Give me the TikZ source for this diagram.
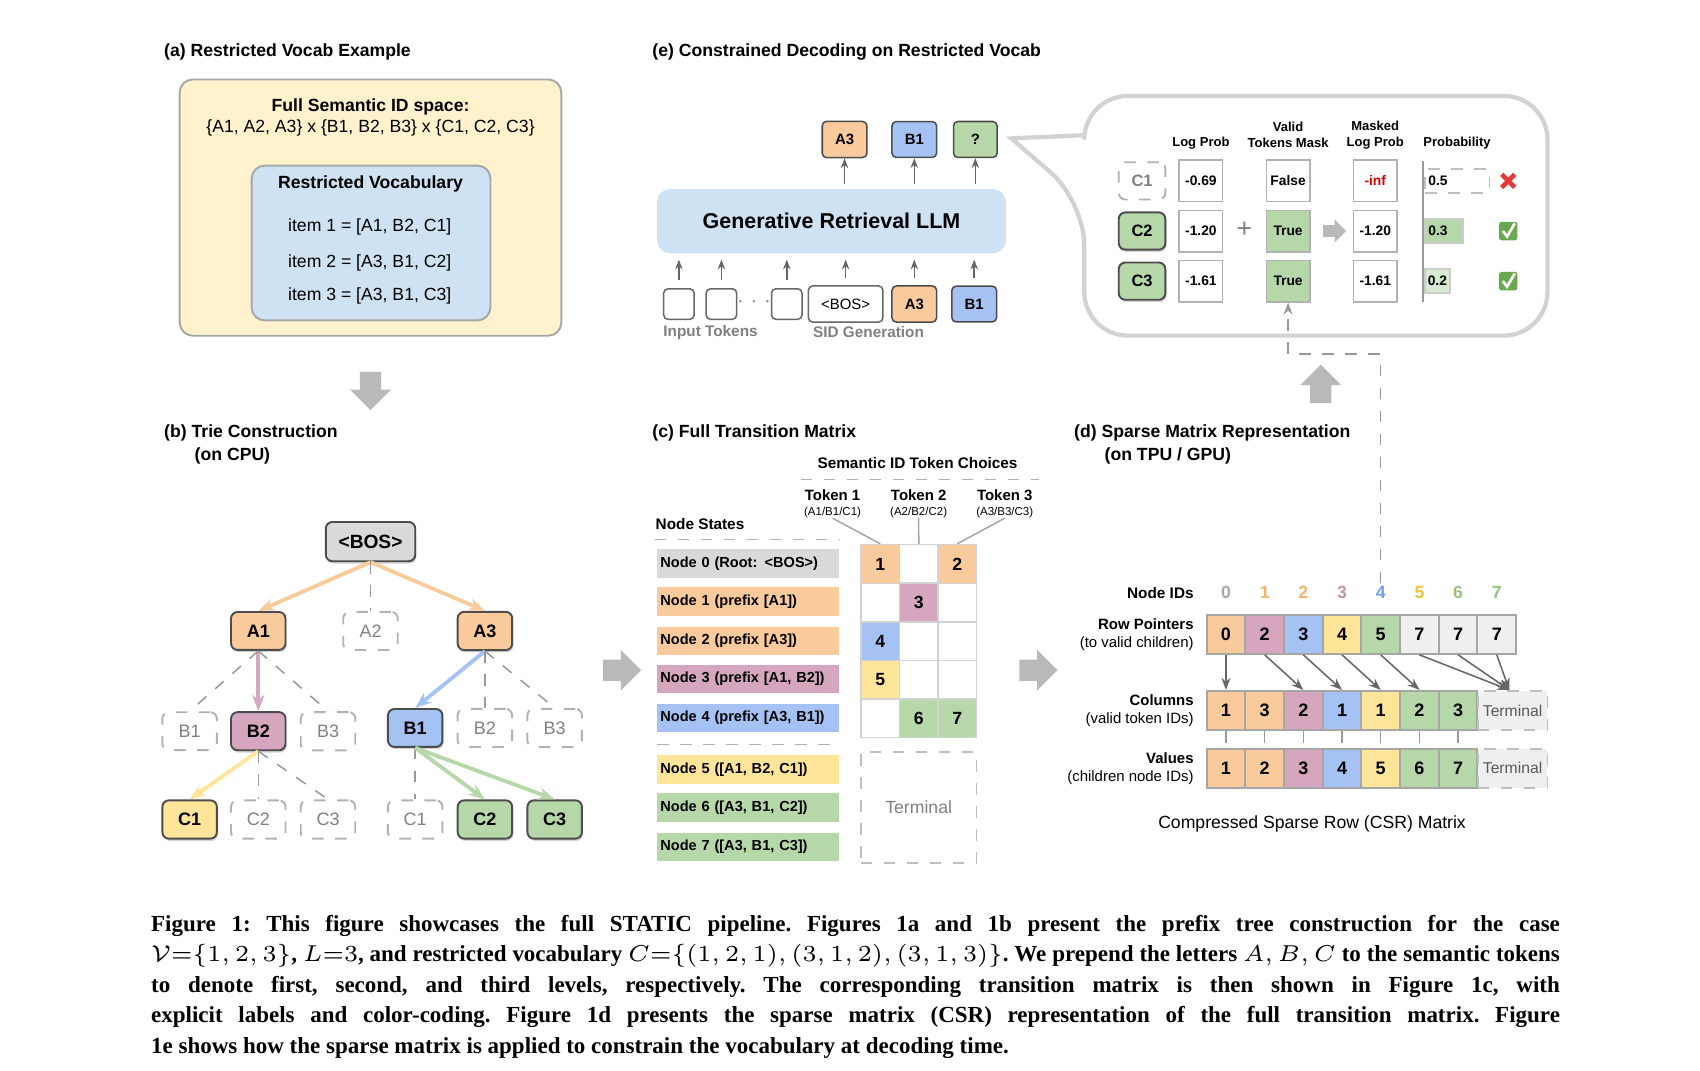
\documentclass[tikz,border=0pt]{standalone}
\usepackage{fontspec}
\setmainfont{Liberation Sans}
\newfontfamily\capfont{Liberation Serif}
\usetikzlibrary{arrows.meta, positioning, shapes.arrows, shadows}
\definecolor{orangeF}{HTML}{F9CB9C}
\definecolor{pinkF}{HTML}{D5A6BD}
\definecolor{blueF}{HTML}{A4C2F4}
\definecolor{yellowF}{HTML}{FFE599}
\definecolor{greenF}{HTML}{B6D7A8}
\definecolor{lgreenF}{HTML}{D9EAD3}
\definecolor{grayF}{HTML}{D9D9D9}
\definecolor{ltgrayF}{HTML}{EFEFEF}
\definecolor{creamF}{HTML}{FFF2CC}
\definecolor{skyF}{HTML}{CFE2F3}
\definecolor{orangeT}{HTML}{F6B26B}
\definecolor{pinkT}{HTML}{C98FAE}
\definecolor{blueT}{HTML}{6D9EEB}
\definecolor{yellowT}{HTML}{F1C232}
\definecolor{greenT}{HTML}{93C47D}
\definecolor{checkF}{HTML}{6AA84F}
\definecolor{crossT}{HTML}{E53935}
\newcommand{\fs}[1]{\linespread{1.2}\fontsize{#1}{#1}\selectfont}
\begin{document}
\begin{tikzpicture}[x=0.01cm, y=-0.01cm]

  % Define styles
  \tikzstyle{title} = [anchor=west, inner sep=0pt, font=\fs{4.6}\bfseries]
  \tikzstyle{trie} = [rectangle, rounded corners=0.6mm, draw=black!70, line width=0.5pt, minimum width=5mm, minimum height=3.4mm, font=\fs{4.7}\bfseries, drop shadow={shadow xshift=0.3pt, shadow yshift=-0.6pt, opacity=.35}]
  \tikzstyle{ghost} = [rectangle, rounded corners=0.6mm, draw=gray!60, dashed, line width=0.5pt, minimum width=5mm, minimum height=3.4mm, text=gray, font=\fs{4.7}]
  \tikzstyle{tok} = [rectangle, rounded corners=0.4mm, draw=black!70, line width=0.4pt, minimum width=4mm, minimum height=2.8mm, font=\fs{3.9}\bfseries]
  \tikzstyle{cell} = [rectangle, draw=gray!35, line width=0.4pt, minimum width=3.55mm, minimum height=3.55mm, inner sep=0pt, font=\fs{4.6}\bfseries]
  \tikzstyle{state} = [rectangle, minimum width=16.7mm, minimum height=2.6mm, text width=16mm, inner sep=0.35mm, align=left, font=\fs{3.8}\bfseries]
  \tikzstyle{csr} = [rectangle, draw=gray!70, line width=0.5pt, minimum width=3.55mm, minimum height=3.6mm, inner sep=0pt, font=\fs{4.7}\bfseries]
  \tikzstyle{rowlab} = [anchor=east, align=right, inner sep=0pt, font=\fs{3.9}]
  \tikzstyle{box} = [rectangle, draw=gray!60, line width=0.4pt, minimum width=4mm, minimum height=3.8mm, inner sep=0pt, font=\fs{3.6}\bfseries]
  \tikzstyle{head} = [align=center, inner sep=0pt, font=\fs{3.4}\bfseries]
  \tikzstyle{bigarrow} = [single arrow, fill=gray!55, inner sep=0.9mm, minimum width=3.6mm, minimum height=3.5mm, single arrow head extend=0.9mm]
  \tikzstyle{ptr} = [draw=gray!80!black, line width=0.4pt, -{Stealth[length=1.1mm]}]
  \tikzstyle{uparr} = [draw=gray!80!black, line width=0.4pt, -{Stealth[length=0.9mm]}]
  \tikzstyle{dashed_line} = [draw=gray!60, dashed, line width=0.4pt]

  \useasboundingbox (0,0) rectangle (1560,982);

  % (a) Restricted vocab
  \node[title] at (150,48) {(a) Restricted Vocab Example};
  \node[draw=gray!70, fill=creamF, rounded corners=1.2mm, line width=0.5pt, minimum width=35mm, minimum height=23.5mm] (full) at (340,190.5) {};
  \node[font=\fs{4.6}, align=center] (fulltxt) at (340,108) {\textbf{Full Semantic ID space:}\\{\{A1, A2, A3\} x \{B1, B2, B3\} x \{C1, C2, C3\}}};
  \node[draw=gray!70, fill=skyF, rounded corners=1.2mm, line width=0.5pt, minimum width=21.9mm, minimum height=14.2mm] (vocab) at (340.5,223) {};
  \node[font=\fs{4.6}\bfseries] (vocabtxt) at (340,169) {Restricted Vocabulary};
  \node[anchor=west, font=\fs{4.6}] (item1) at (252,208) {item 1 = [A1, B2, C1]};
  \node[anchor=west, font=\fs{4.6}] (item2) at (252,241) {item 2 = [A3, B1, C2]};
  \node[anchor=west, font=\fs{4.6}] (item3) at (252,272) {item 3 = [A3, B1, C3]};

  \node[bigarrow, shape border rotate=270] (downarr) at (340,354) {};

  % (b) Trie
  \node[title] at (150,397) {(b) Trie Construction};
  \node[title] at (178,418) {(on CPU)};

  \node[trie, fill=grayF, minimum width=8mm, minimum height=3.6mm, font=\fs{5}\bfseries] (bos) at (340,497) {<BOS>};
  \node[trie, fill=orangeF] (a1) at (237,579) {A1};
  \node[ghost] (a2) at (340,579) {A2};
  \node[trie, fill=orangeF] (a3) at (445,579) {A3};

  \node[ghost] (b1l) at (174,671) {B1};
  \node[trie, fill=pinkF] (b2l) at (237,671) {B2};
  \node[ghost] (b3l) at (301,671) {B3};
  \node[trie, fill=blueF] (b1r) at (381,668) {B1};
  \node[ghost] (b2r) at (445,668) {B2};
  \node[ghost] (b3r) at (509,668) {B3};

  \node[trie, fill=yellowF] (c1l) at (174,752) {C1};
  \node[ghost] (c2l) at (237,752) {C2};
  \node[ghost] (c3l) at (301,752) {C3};
  \node[ghost] (c1r) at (381,752) {C1};
  \node[trie, fill=greenF] (c2r) at (445,752) {C2};
  \node[trie, fill=greenF] (c3r) at (509,752) {C3};

  % Trie edges
  \draw[orangeF, line width=1pt, -{Stealth[length=1.5mm]}] (bos.south) -- (a1.north);
  \draw[orangeF, line width=1pt, -{Stealth[length=1.5mm]}] (bos.south) -- (a3.north);
  \draw[dashed_line, draw=gray!80] (bos.south) -- (a2.north);
  \draw[pinkF, line width=1pt, -{Stealth[length=1.5mm]}] (a1.south) -- (b2l.north);
  \draw[dashed_line, draw=gray!80] (a1.south) -- (b1l.north);
  \draw[dashed_line, draw=gray!80] (a1.south) -- (b3l.north);
  \draw[blueF, line width=1pt, -{Stealth[length=1.5mm]}] (a3.south) -- (b1r.north);
  \draw[dashed_line, draw=gray!80] (a3.south) -- (b2r.north);
  \draw[dashed_line, draw=gray!80] (a3.south) -- (b3r.north);
  \draw[yellowF, line width=1pt, -{Stealth[length=1.5mm]}] (b2l.south) -- (c1l.north);
  \draw[dashed_line, draw=gray!80] (b2l.south) -- (c2l.north);
  \draw[dashed_line, draw=gray!80] (b2l.south) -- (c3l.north);
  \draw[dashed_line, draw=gray!80] (b1r.south) -- (c1r.north);
  \draw[greenF, line width=1pt, -{Stealth[length=1.5mm]}] (b1r.south) -- (c2r.north);
  \draw[greenF, line width=1pt, -{Stealth[length=1.5mm]}] (b1r.south) -- (c3r.north);

  \node[bigarrow] (rightarr1) at (566,615) {};

  % (c) Full transition matrix
  \node[title] at (598,397) {(c) Full Transition Matrix};
  \node[font=\fs{4}\bfseries] (semid) at (842,425) {Semantic ID Token Choices};
  \coordinate (semL) at (735,440);
  \coordinate (semR) at (953,440);
  \draw[dashed_line] (semL) -- (semR);
  \node[align=center, inner sep=0pt, font=\fs{3.9}\bfseries] (tok1) at (764,462) {Token 1\\[-0.3mm]{\fs{3}\mdseries (A1/B1/C1)}};
  \node[align=center, inner sep=0pt, font=\fs{3.9}\bfseries] (tok2) at (843,462) {Token 2\\[-0.3mm]{\fs{3}\mdseries (A2/B2/C2)}};
  \node[align=center, inner sep=0pt, font=\fs{3.9}\bfseries] (tok3) at (922,462) {Token 3\\[-0.3mm]{\fs{3}\mdseries (A3/B3/C3)}};
  \node[anchor=west, inner sep=0pt, font=\fs{4}\bfseries] (nstates) at (601,481) {Node States};
  \coordinate (nsL) at (601,495);
  \coordinate (nsR) at (770,495);
  \draw[dashed_line] (nsL) -- (nsR);

  \node[state, fill=grayF] (s0) at (686,517) {Node 0 (Root: <BOS>)};
  \node[state, fill=orangeF] (s1) at (686,552) {Node 1 (prefix [A1])};
  \node[state, fill=orangeF] (s2) at (686,588) {Node 2 (prefix [A3])};
  \node[state, fill=pinkF] (s3) at (686,623) {Node 3 (prefix [A1, B2])};
  \node[state, fill=blueF] (s4) at (686,659) {Node 4 (prefix [A3, B1])};
  \coordinate (sepL) at (603,683);
  \coordinate (sepR) at (770,683);
  \draw[dashed_line] (sepL) -- (sepR);
  \node[state, fill=yellowF] (s5) at (686,706) {Node 5 ([A1, B2, C1])};
  \node[state, fill=greenF] (s6) at (686,741) {Node 6 ([A3, B1, C2])};
  \node[state, fill=greenF] (s7) at (686,777) {Node 7 ([A3, B1, C3])};

  % grid cells
  \foreach \r in {0,...,4}
    \foreach \c in {1,2,3}
      \node[cell] (g\r\c) at ({772.5+35.3*\c},{517.5+35.4*\r}) {};
  \node[cell, fill=orangeF] at (g01) {1};
  \node[cell, fill=orangeF] at (g03) {2};
  \node[cell, fill=pinkF] at (g12) {3};
  \node[cell, fill=blueF] at (g21) {4};
  \node[cell, fill=yellowF] at (g31) {5};
  \node[cell, fill=greenF] at (g42) {6};
  \node[cell, fill=greenF] at (g43) {7};
  \draw[gray!70, line width=0.4pt] (tok1.south) -- (g01.north);
  \draw[gray!70, line width=0.4pt] (tok2.south) -- (g02.north);
  \draw[gray!70, line width=0.4pt] (tok3.south) -- (g03.north);
  \node[draw=gray!50, dashed, line width=0.4pt, minimum width=10.6mm, minimum height=10.2mm, text=gray, font=\fs{4.6}] (term) at (843,741) {Terminal};

  \node[bigarrow] (rightarr2) at (948,615) {};

  % (d) Sparse matrix
  \node[title] at (985,397) {(d) Sparse Matrix Representation};
  \node[title] at (1013,418) {(on TPU / GPU)};

  \node[rowlab, font=\fs{4}\bfseries] (lids) at (1096,544) {Node IDs};
  \node[rowlab] (lrp) at (1096,582) {\textbf{Row Pointers}\\(to valid children)};
  \node[rowlab] (lcol) at (1096,652) {\textbf{Columns}\\(valid token IDs)};
  \node[rowlab] (lval) at (1096,705) {\textbf{Values}\\(children node IDs)};

  \foreach \t [count=\i from 0] in {gray!70,orangeT,orangeT,pinkT,blueT,yellowT,greenT,greenT}
    \node[font=\fs{4.6}\bfseries, text=\t] (nid\i) at ({1125+35.5*\i},544) {\i};
  \foreach \v/\f [count=\i from 0] in {0/orangeF,2/pinkF,3/blueF,4/yellowF,5/greenF,7/ltgrayF,7/ltgrayF,7/ltgrayF}
    \node[csr, fill=\f] (rp\i) at ({1125+35.5*\i},582) {\v};
  \foreach \v/\f [count=\i from 0] in {1/orangeF,3/orangeF,2/pinkF,1/blueF,1/yellowF,2/greenF,3/greenF}
    \node[csr, fill=\f] (col\i) at ({1125+35.5*\i},652) {\v};
  \foreach \v/\f [count=\i from 0] in {1/orangeF,2/orangeF,3/pinkF,4/blueF,5/yellowF,6/greenF,7/greenF}
    \node[csr, fill=\f] (val\i) at ({1125+35.5*\i},705) {\v};
  \node[csr, fill=ltgrayF, draw=gray!50, dashed, minimum width=6.4mm, font=\fs{4.1}, text=black!65] (colT) at (1388,652) {Terminal};
  \node[csr, fill=ltgrayF, draw=gray!50, dashed, minimum width=6.4mm, font=\fs{4.1}, text=black!65] (valT) at (1388,705) {Terminal};

  \foreach \a/\b in {0/0,1/2,2/3,3/4,4/5}
    \draw[ptr] (rp\a.south) -- (col\b.north);
  \foreach \a in {5,6,7}
    \draw[ptr] (rp\a.south) -- ([xshift=-0.3mm]colT.north);
  \foreach \i in {0,...,6}
    \draw[dashed_line, draw=gray!80] (col\i.south) -- (val\i.north);

  \node[font=\fs{4.6}] (csrlab) at (1204,756) {Compressed Sparse Row (CSR) Matrix};

  \node[bigarrow, shape border rotate=90] (uparr) at (1212,357) {};

  % (e) Constrained decoding
  \node[title] at (598,48) {(e) Constrained Decoding on Restricted Vocab};
  \node[fill=skyF, rounded corners=1.2mm, minimum width=32mm, minimum height=5.9mm, font=\fs{5.6}\bfseries] (llm) at (763,203) {Generative Retrieval LLM};

  \node[tok, fill=orangeF] (oa3) at (775,128) {A3};
  \node[tok, fill=blueF] (ob1) at (839,128) {B1};
  \node[tok, fill=greenF] (oq) at (895,128) {?};
  \draw[uparr] (oa3 |- llm.north) ++(0,-4) -- (oa3.south);
  \draw[uparr] (ob1 |- llm.north) ++(0,-4) -- (ob1.south);
  \draw[uparr] (oq |- llm.north) ++(0,-4) -- (oq.south);

  \node[tok, draw=black!60, minimum width=2.8mm, minimum height=2.8mm] (in1) at (623,279) {};
  \node[tok, draw=black!60, minimum width=2.8mm, minimum height=2.8mm] (in2) at (662,279) {};
  \node[font=\fs{4.2}\bfseries, text=gray] (dots) at (692,277) {$\cdots$};
  \node[tok, draw=black!60, minimum width=2.8mm, minimum height=2.8mm] (in3) at (722,279) {};
  \node[tok, draw=black!60, minimum width=5.8mm, font=\fs{3.9}] (inbos) at (776,279) {<BOS>};
  \node[tok, fill=orangeF] (ina3) at (839,279) {A3};
  \node[tok, fill=blueF] (inb1) at (894,279) {B1};
  \foreach \n in {in1,in2,in3,inbos,ina3,inb1}
    \draw[uparr] ([yshift=0.7mm]\n.north) -- ([yshift=-0.5mm]\n |- llm.south);
  \node[font=\fs{4}\bfseries, text=gray] (inlab) at (652,305) {Input Tokens};
  \node[font=\fs{4}\bfseries, text=gray] (sidlab) at (797,305) {SID Generation};

  % Callout
  \draw[gray!35, line width=1.1pt] (995,124) [rounded corners=4mm] -- (995,88) -- (1420,88) -- (1420,308) -- (995,308) -- (995,185) [sharp corners] -- (928,127) -- cycle;

  \node[head] (hlog) at (1102,131) {Log Prob};
  \node[head] (hmask) at (1182,124) {Valid\\Tokens Mask};
  \node[head] (hmlog) at (1262,124) {Masked\\Log Prob};
  \node[head] (hprob) at (1337,131) {Probability};

  \node[ghost, minimum width=4mm, minimum height=2.8mm, font=\fs{4.3}\bfseries] (cc1) at (1048,166) {C1};
  \node[trie, fill=greenF, minimum width=4mm, minimum height=2.8mm, font=\fs{4.3}\bfseries] (cc2) at (1048,212) {C2};
  \node[trie, fill=greenF, minimum width=4mm, minimum height=2.8mm, font=\fs{4.3}\bfseries] (cc3) at (1048,258) {C3};

  \node[box] (lp1) at (1102,166) {-0.69};
  \node[box] (lp2) at (1102,212) {-1.20};
  \node[box] (lp3) at (1102,258) {-1.61};
  \node[font=\fs{7}, text=gray] (plus) at (1142,211) {+};
  \node[box] (m1) at (1182,166) {False};
  \node[box, fill=greenF] (m2) at (1182,212) {True};
  \node[box, fill=greenF] (m3) at (1182,258) {True};
  \node[single arrow, fill=gray!55, inner sep=0.45mm, minimum width=2.1mm, minimum height=2.1mm, single arrow head extend=0.5mm] (marr) at (1222,212) {};
  \node[box, text=red!85!black] (ml1) at (1262,166) {-inf};
  \node[box] (ml2) at (1262,212) {-1.20};
  \node[box] (ml3) at (1262,258) {-1.61};

  \coordinate (axT) at (1306,148);
  \coordinate (axB) at (1306,277);
  \draw[gray!80, line width=0.5pt] (axT) -- (axB);
  \node[draw=gray!50, dashed, line width=0.4pt, minimum width=5.9mm, minimum height=2.2mm, text width=5.3mm, inner sep=0.3mm, font=\fs{3.6}\bfseries, anchor=west] (pr1) at (1307,166) {0.5};
  \node[draw=gray!40, fill=greenF, minimum width=3.5mm, minimum height=2.2mm, text width=2.9mm, inner sep=0.3mm, font=\fs{3.6}\bfseries, anchor=west] (pr2) at (1307,212) {0.3};
  \node[draw=gray!40, fill=lgreenF, minimum width=2.3mm, minimum height=2.2mm, text width=1.8mm, inner sep=0.25mm, font=\fs{3.6}\bfseries, anchor=west] (pr3) at (1307,258) {0.2};

  % marks
  \coordinate (x1) at (1384,166);
  \draw[crossT, line width=1.2pt] ([shift={(-6,-6)}]x1) -- ([shift={(6,6)}]x1);
  \draw[crossT, line width=1.2pt] ([shift={(-6,6)}]x1) -- ([shift={(6,-6)}]x1);
  \node[fill=checkF, rounded corners=0.25mm, minimum size=1.7mm, inner sep=0pt] (ok2) at (1384,212) {};
  \node[fill=checkF, rounded corners=0.25mm, minimum size=1.7mm, inner sep=0pt] (ok3) at (1384,258) {};
  \foreach \n in {ok2,ok3}
    \draw[white, line width=0.7pt] ([shift={(-5,0)}]\n.center) -- ([shift={(-1,5)}]\n.center) -- ([shift={(6,-7)}]\n.center);

  % mask feed from sparse matrix
  \coordinate (tap) at (1267,535);
  \draw[dashed_line, draw=gray!80, -{Stealth[length=1.1mm]}] (tap) -- ++(0,-210) -| (m3.south);

  % Caption
  \node[anchor=north west, text width=12.92cm, align=justify, inner sep=0pt, font=\capfont\bfseries\frenchspacing\fontsize{6.0}{7.97}\selectfont] (caption) at (138,839) {Figure 1: This figure showcases the full STATIC pipeline. Figures 1a and 1b present the prefix tree construction for the case\linebreak $\mathcal{V}{=}\{1,2,3\}$, $L{=}3$, and restricted vocabulary $C{=}\{(1,2,1),(3,1,2),(3,1,3)\}$. We prepend the letters $A,B,C$ to the semantic tokens\linebreak to denote first, second, and third levels, respectively. The corresponding transition matrix is then shown in Figure 1c, with\linebreak explicit labels and color-coding. Figure 1d presents the sparse matrix (CSR) representation of the full transition matrix. Figure\linebreak 1e shows how the sparse matrix is applied to constrain the vocabulary at decoding time.};

\end{tikzpicture}
\end{document}
